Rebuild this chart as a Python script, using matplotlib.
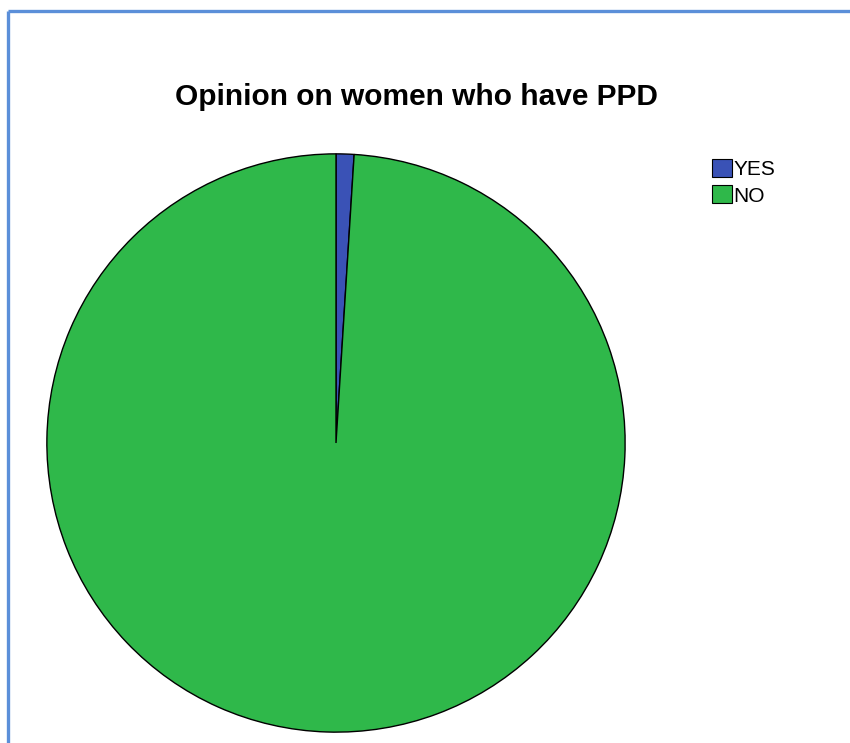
import matplotlib
matplotlib.use("Agg")
import matplotlib.pyplot as plt
from matplotlib.lines import Line2D
from matplotlib.patches import Patch

labels = ["YES", "NO"]
counts = [1, 99]
colors = ["#3a52b6", "#2fb84a"]

W, H = 850, 743
fig = plt.figure(figsize=(W / 100, H / 100), dpi=100)
fig.patch.set_facecolor("white")

# blue frame on left and top only
frame_color = "#5b8fd9"
fig.add_artist(Line2D([8 / W, 8 / W], [0, 1 - 11 / H], transform=fig.transFigure,
                      color=frame_color, linewidth=2.4, solid_capstyle="butt"))
fig.add_artist(Line2D([8 / W, 1], [1 - 11 / H, 1 - 11 / H], transform=fig.transFigure,
                      color=frame_color, linewidth=2.4, solid_capstyle="butt"))

# pie centred at (336, 443) px, radius 290 px
cx, cy, r = 336, 443, 290
ax = fig.add_axes([(cx - r) / W, (H - cy - r) / H, 2 * r / W, 2 * r / H])
ax.pie(counts, colors=colors, startangle=90, counterclock=False, radius=1,
       wedgeprops=dict(edgecolor="black", linewidth=1.0))
ax.set_xlim(-1.003, 1.003)
ax.set_ylim(-1.003, 1.003)
ax.set_aspect("equal")
ax.axis("off")

fig.text(416 / W, 1 - 97 / H, "Opinion on women who have PPD", ha="center", va="center",
         fontsize=21.5, fontweight="bold", family="Liberation Sans")

handles = [Patch(facecolor=c, edgecolor="black", linewidth=0.8) for c in colors]
fig.legend(handles, labels, loc="upper left", bbox_to_anchor=(712 / W, 1 - 159 / H),
           frameon=False, prop={"family": "Liberation Sans", "size": 15},
           handlelength=0.95, handleheight=0.95, handletextpad=0.08, labelspacing=0.3,
           borderpad=0, borderaxespad=0)

fig.savefig("out.png", dpi=100)
